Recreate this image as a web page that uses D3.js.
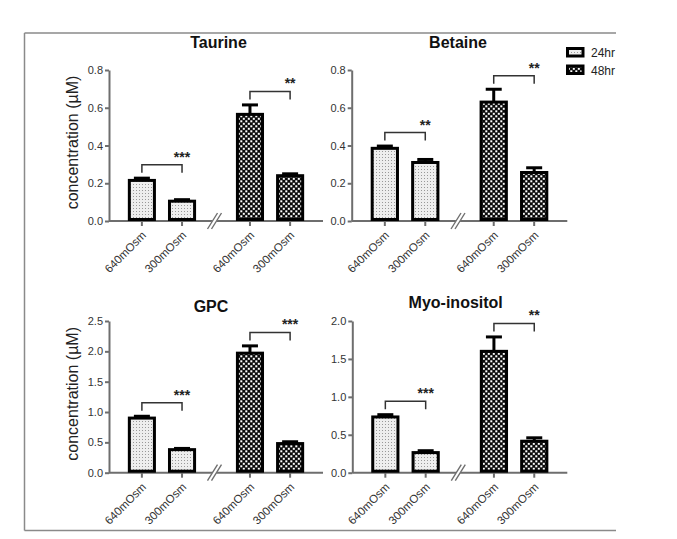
<!DOCTYPE html>
<html>
<head>
<meta charset="utf-8">
<script src="https://cdn.jsdelivr.net/npm/d3@7"></script>
<style>
  html, body { margin: 0; padding: 0; background: #fff; }
  svg { display: block; font-family: "Liberation Sans", Arial, sans-serif; }
</style>
</head>
<body>
<svg id="chart" width="677" height="539"></svg>
<script>
// ---------- data ----------
const conditions = ["640mOsm", "300mOsm"];
const timepoints = ["24hr", "48hr"];
const metabolites = ["Taurine", "Betaine", "GPC", "Myo-inositol"];
const yMaxima = [0.8, 0.8, 2.5, 2.0];
const yTickSteps = [0.2, 0.2, 0.5, 0.5];
// order: 24hr-640, 24hr-300, 48hr-640, 48hr-300
const taurineMean = [0.215, 0.105, 0.565, 0.24];
const taurineSem  = [0.012, 0.008, 0.05, 0.01];
const betaineMean = [0.385, 0.31, 0.63, 0.257];
const betaineSem  = [0.012, 0.016, 0.068, 0.025];
const gpcMean     = [0.9, 0.38, 1.97, 0.48];
const gpcSem      = [0.03, 0.02, 0.12, 0.03];
const myoMean     = [0.735, 0.265, 1.6, 0.415];
const myoSem      = [0.03, 0.025, 0.19, 0.045];
const taurineSig = ["***", "**"];
const betaineSig = ["**", "**"];
const gpcSig     = ["***", "***"];
const myoSig     = ["***", "**"];
const yLabel = "concentration (µM)";

const means = [taurineMean, betaineMean, gpcMean, myoMean];
const sems = [taurineSem, betaineSem, gpcSem, myoSem];
const sigs = [taurineSig, betaineSig, gpcSig, myoSig];

// ---------- layout ----------
const panels = [
  { x0: 109,   x1: 323,   top: 70,  bottom: 221,   titleX: 218.5, titleY: 48,  ylab: true },
  { x0: 351.7, x1: 567.3, top: 70,  bottom: 221,   titleX: 458,   titleY: 48,  ylab: false },
  { x0: 109,   x1: 323,   top: 321, bottom: 472.7, titleX: 211,   titleY: 311.5, ylab: true },
  { x0: 352.3, x1: 567.3, top: 321, bottom: 472.7, titleX: 455.7, titleY: 307.5, ylab: false }
];
const axisColor = "#6e6e6e";
const textColor = "#333";

const svg = d3.select("#chart");
svg.append("rect").attr("width", 677).attr("height", 539).attr("fill", "#fff");

const defs = svg.append("defs");
// 24hr light dotted pattern
const p1 = defs.append("pattern").attr("id", "pat24").attr("patternUnits", "userSpaceOnUse")
  .attr("width", 3).attr("height", 3);
p1.append("rect").attr("width", 3).attr("height", 3).attr("fill", "#eeeeee");
p1.append("rect").attr("x", 1).attr("y", 1).attr("width", 1).attr("height", 1).attr("fill", "#999");
// 48hr staggered checker pattern
const p2 = defs.append("pattern").attr("id", "pat48").attr("patternUnits", "userSpaceOnUse")
  .attr("width", 5).attr("height", 5);
p2.append("rect").attr("width", 5).attr("height", 5).attr("fill", "#0a0a0a");
p2.append("rect").attr("x", 0.3).attr("y", 0.3).attr("width", 2).attr("height", 2).attr("fill", "#fff");
p2.append("rect").attr("x", 2.8).attr("y", 2.8).attr("width", 2).attr("height", 2).attr("fill", "#fff");
defs.append("clipPath").attr("id", "clipAll").append("rect")
  .attr("x", 0).attr("y", 0).attr("width", 616).attr("height", 539);

const root = svg.append("g").attr("clip-path", "url(#clipAll)");

// frame
const frame = root.append("g").attr("stroke", "#8a8a8a").attr("stroke-width", 1.5).attr("fill", "none");
frame.append("line").attr("x1", 24.5).attr("x2", 640).attr("y1", 33).attr("y2", 33);
frame.append("line").attr("x1", 24.5).attr("x2", 640).attr("y1", 530.5).attr("y2", 530.5);
frame.append("line").attr("x1", 24.5).attr("x2", 24.5).attr("y1", 33).attr("y2", 530.5);

panels.forEach((p, pi) => {
  const g = root.append("g");
  const y = d3.scaleLinear().domain([0, yMaxima[pi]]).range([p.bottom, p.top]);
  const outer = d3.scaleBand().domain(timepoints).range([p.x0, p.x1])
    .paddingInner(0.22).paddingOuter(0.1);
  const inner = d3.scaleBand().domain(conditions).range([0, outer.bandwidth()])
    .paddingInner(0.375).paddingOuter(0.2375);
  const cx = (t, c) => outer(t) + inner(c) + inner.bandwidth() / 2;

  const bars = [];
  timepoints.forEach((t, ti) => conditions.forEach((c, ci) => {
    const k = ti * 2 + ci;
    bars.push({ t, c, ti, v: means[pi][k], e: sems[pi][k] });
  }));

  // y axis
  const ticks = d3.range(0, yMaxima[pi] + 1e-9, yTickSteps[pi]);
  const yAxis = d3.axisLeft(y).tickValues(ticks).tickFormat(d3.format(".1f"))
    .tickSize(4).tickPadding(2).tickSizeOuter(0);
  const ya = g.append("g").attr("transform", `translate(${p.x0},0)`).call(yAxis);
  ya.select(".domain").attr("stroke", axisColor).attr("stroke-width", 2);
  ya.selectAll(".tick line").attr("stroke", axisColor).attr("stroke-width", 2);
  ya.selectAll(".tick text").attr("fill", textColor).attr("font-size", 11).attr("font-family", "Liberation Sans, Arial, sans-serif");

  // x axis line
  g.append("line").attr("x1", p.x0).attr("x2", p.x1).attr("y1", p.bottom).attr("y2", p.bottom)
    .attr("stroke", axisColor).attr("stroke-width", 2);
  // x ticks and labels
  bars.forEach(b => {
    const x = cx(b.t, b.c);
    g.append("line").attr("x1", x).attr("x2", x).attr("y1", p.bottom).attr("y2", p.bottom + 5)
      .attr("stroke", axisColor).attr("stroke-width", 2);
    g.append("text").attr("transform", `translate(${x + 5},${p.bottom + 15}) rotate(-45)`)
      .attr("text-anchor", "end").attr("font-size", 11.5).attr("fill", textColor).text(b.c);
  });

  // axis break
  const bx = (outer("24hr") + outer.bandwidth() + outer("48hr")) / 2 - 1.5;
  const by = p.bottom;
  g.append("line").attr("x1", bx - 5).attr("y1", by + 8).attr("x2", bx + 5).attr("y2", by - 8)
    .attr("stroke", "#fff").attr("stroke-width", 4);
  [-2, 2].forEach(o => {
    g.append("line").attr("x1", bx + o - 5).attr("y1", by + 8).attr("x2", bx + o + 5).attr("y2", by - 8)
      .attr("stroke", axisColor).attr("stroke-width", 1.4);
  });

  // error bars
  bars.forEach(b => {
    const x = cx(b.t, b.c);
    g.append("line").attr("x1", x).attr("x2", x).attr("y1", y(b.v)).attr("y2", y(b.v + b.e))
      .attr("stroke", "#000").attr("stroke-width", 3);
    g.append("line").attr("x1", x - 8).attr("x2", x + 8).attr("y1", y(b.v + b.e)).attr("y2", y(b.v + b.e))
      .attr("stroke", "#000").attr("stroke-width", 3);
  });
  // bars
  bars.forEach(b => {
    g.append("rect").attr("x", outer(b.t) + inner(b.c)).attr("width", inner.bandwidth())
      .attr("y", y(b.v)).attr("height", y(0) - y(b.v) - 1.5)
      .attr("fill", b.ti === 0 ? "url(#pat24)" : "url(#pat48)")
      .attr("stroke", "#000").attr("stroke-width", 3);
  });

  // significance brackets
  timepoints.forEach((t, ti) => {
    const pair = bars.filter(b => b.t === t);
    const top = d3.min(pair, b => y(b.v + b.e)) - 13.5;
    const xa = cx(t, conditions[0]), xb = cx(t, conditions[1]);
    g.append("path").attr("d", `M${xa},${top + 8}V${top}H${xb}V${top + 8}`)
      .attr("fill", "none").attr("stroke", "#333").attr("stroke-width", 1.5);
    g.append("text").attr("x", xb).attr("y", top - 3).attr("text-anchor", "middle")
      .attr("font-size", 14).attr("font-weight", "bold").attr("fill", "#222").text(sigs[pi][ti]);
  });

  // title
  g.append("text").attr("x", p.titleX).attr("y", p.titleY).attr("text-anchor", "middle")
    .attr("font-size", 16).attr("font-weight", "bold").attr("fill", "#111").text(metabolites[pi]);

  // y label
  if (p.ylab) {
    const yc = (p.top + p.bottom) / 2 - 3;
    g.append("text").attr("transform", `translate(78,${yc}) rotate(-90)`)
      .attr("text-anchor", "middle").attr("font-size", 16).attr("fill", "#222").text(yLabel);
  }
});

// legend
const leg = root.append("g");
timepoints.forEach((t, i) => {
  const yy = 48.5 + i * 17.5;
  leg.append("rect").attr("x", 567.5).attr("y", yy).attr("width", 15.5).attr("height", 7.5)
    .attr("fill", i === 0 ? "url(#pat24)" : "url(#pat48)").attr("stroke", "#000").attr("stroke-width", 3);
  leg.append("text").attr("x", 591).attr("y", yy + 8.5).attr("font-size", 12).attr("fill", "#222").text(t);
});
</script>
</body>
</html>
